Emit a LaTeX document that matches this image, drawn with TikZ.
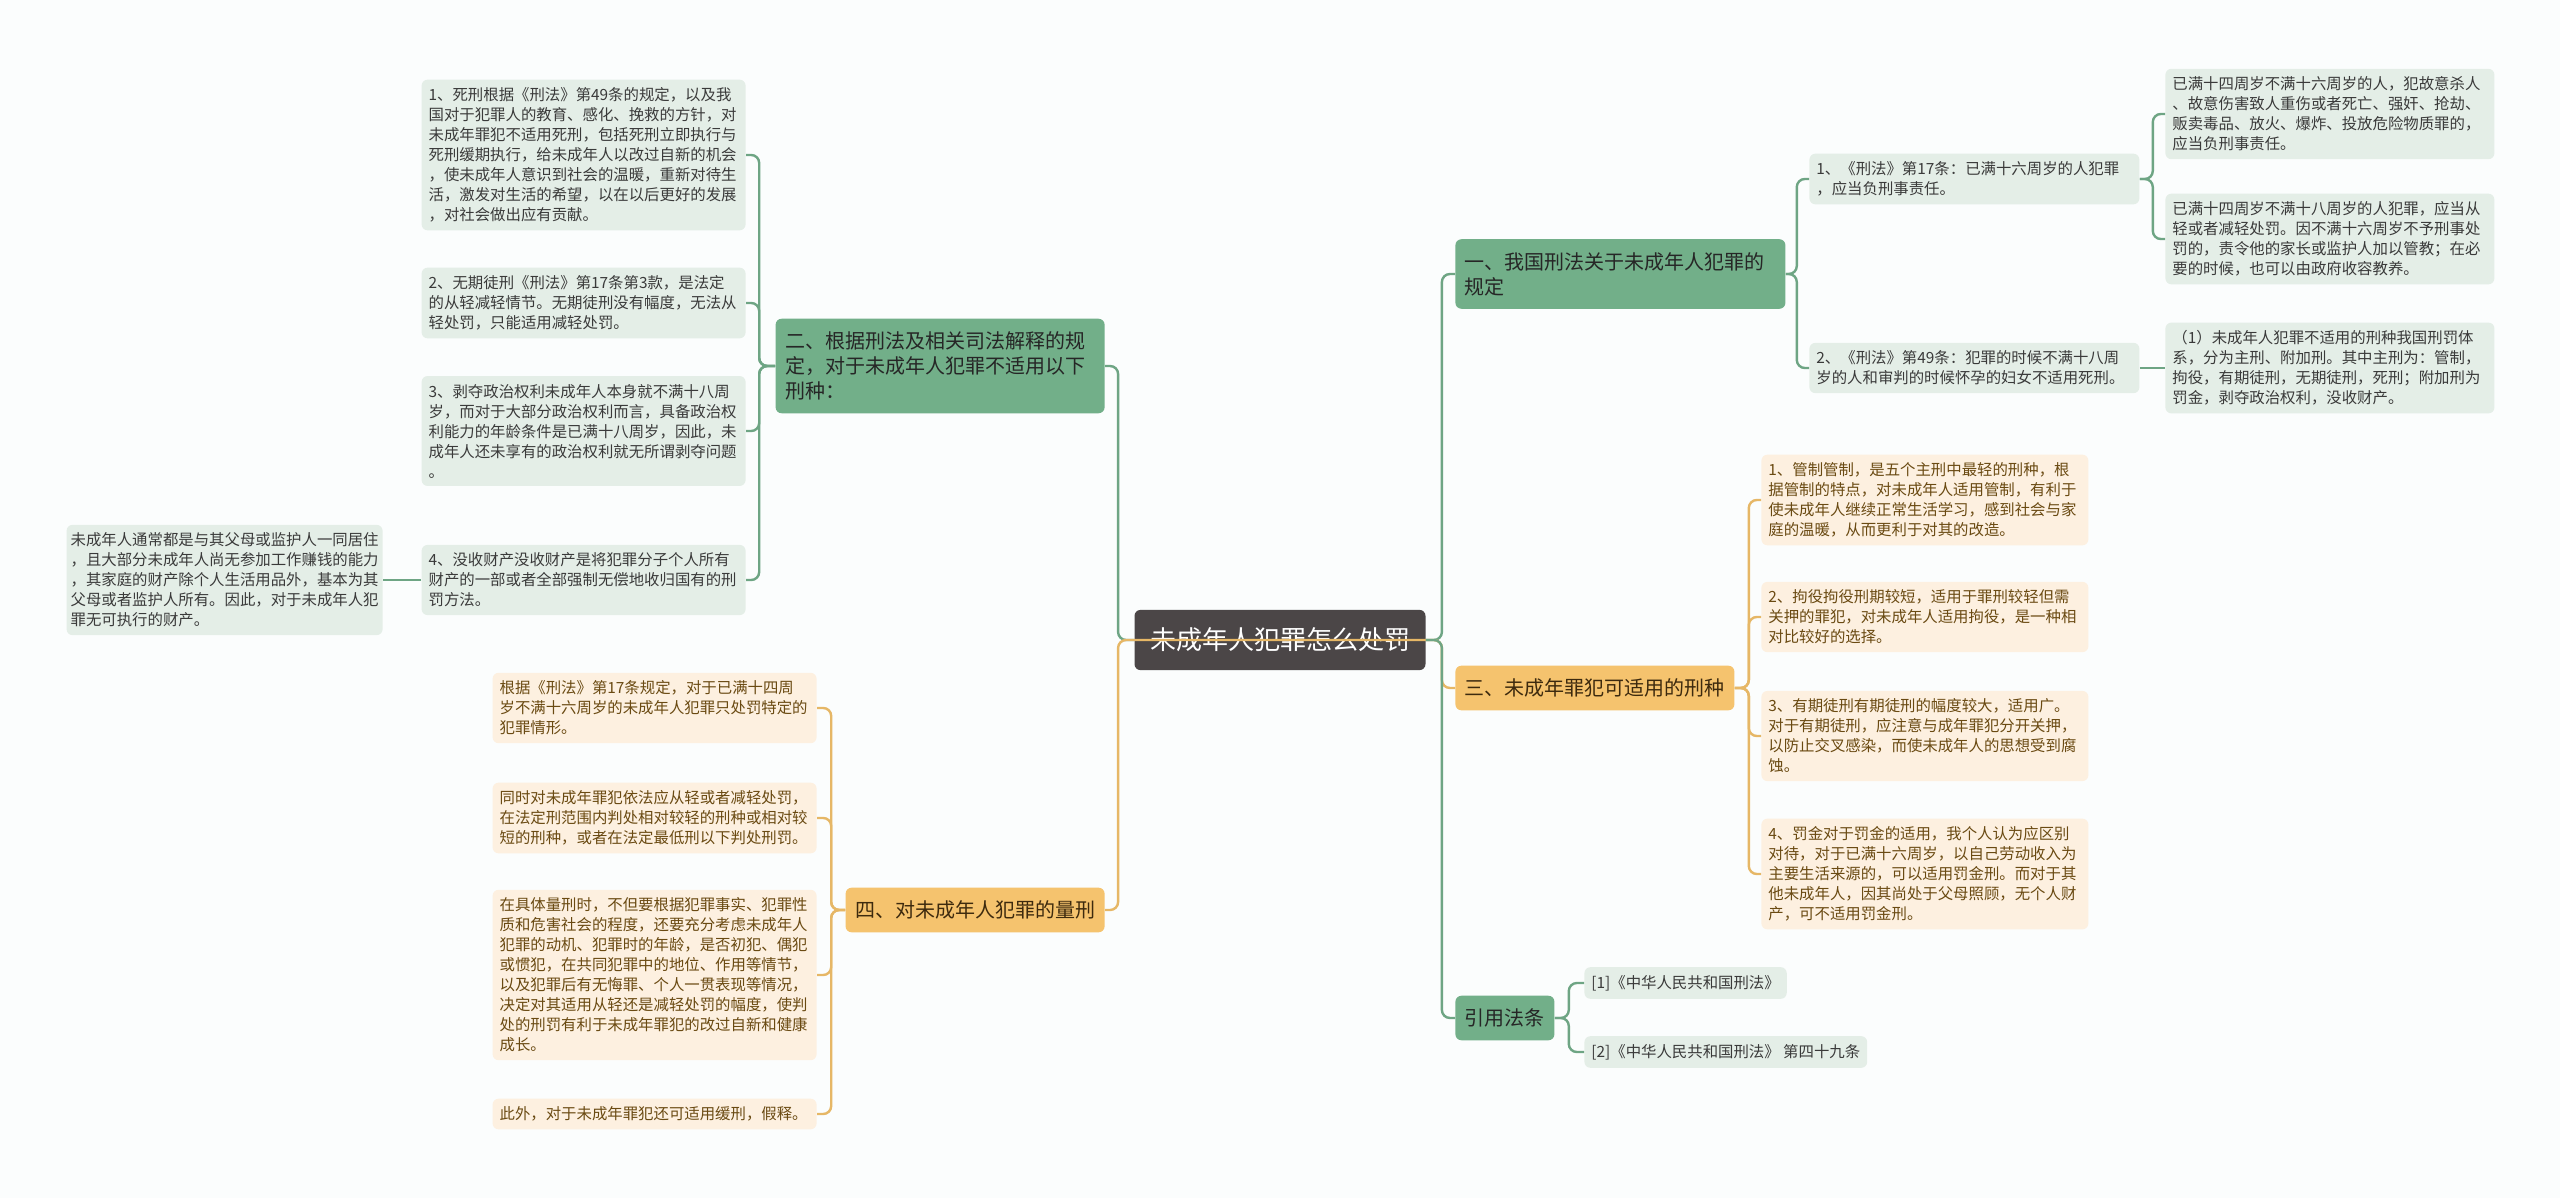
\documentclass[tikz,border=0pt]{standalone}
\usepackage{fontspec}
\setmainfont{Noto Sans CJK SC}
\usepackage{tikz}
\definecolor{bg}{HTML}{FBFDFD}
\definecolor{rootc}{HTML}{4B4647}
\definecolor{g}{HTML}{72AF89}
\definecolor{gl}{HTML}{E4EEE7}
\definecolor{gline}{HTML}{6EA584}
\definecolor{gtext}{HTML}{3A3A3A}
\definecolor{o}{HTML}{F5C36E}
\definecolor{ol}{HTML}{FDF0E0}
\definecolor{oline}{HTML}{E6B766}
\definecolor{otext}{HTML}{6A4A12}
\definecolor{otitle}{HTML}{3D2A0E}

\begin{document}
\begin{tikzpicture}[x=0.5pt,y=-0.5pt,
  rootbox/.style={fill=rootc,text=white,rounded corners=3pt,
    inner xsep=7.75pt,inner ysep=9pt,font=\fontsize{13pt}{16pt}\selectfont},
  gmain/.style={fill=g,text=black!85,rounded corners=3pt,align=left,
    inner xsep=4.75pt,inner ysep=6.5pt,font=\fontsize{10pt}{12.5pt}\selectfont},
  omain/.style={gmain,fill=o,text=otitle},
  gleaf/.style={fill=gl,text=gtext,rounded corners=3pt,align=left,
    inner xsep=3.5pt,inner ysep=4pt,font=\fontsize{7.7pt}{10pt}\selectfont},
  oleaf/.style={gleaf,fill=ol,text=otext},
  glink/.style={draw=gline,line width=1.2pt,rounded corners=4pt},
  olink/.style={draw=oline,line width=1.2pt,rounded corners=4pt}]
  \useasboundingbox (0,0) rectangle (2560,1198);
  \fill[bg] (0,0) rectangle (2560,1198);

  \node[rootbox] (root) at (1280,640) {未成年人犯罪怎么处罚};
  \node[gmain,text width=155.5pt,anchor=west] (law) at (1455,274)
    {一、我国刑法关于未成年人犯罪的\\规定};
  \node[gmain,text width=155pt,anchor=east] (ban) at (1105,366)
    {二、根据刑法及相关司法解释的规\\定，对于未成年人犯罪不适用以下\\刑种：};
  \node[omain,anchor=west] (kind) at (1455,688) {三、未成年罪犯可适用的刑种};
  \node[omain,anchor=east] (meas) at (1105,910) {四、对未成年人犯罪的量刑};
  \node[gmain,anchor=west] (cite) at (1455,1018) {引用法条};

  \node[gleaf,text width=158pt,anchor=west] (law1) at (1809,179)
    {1、《刑法》第17条：已满十六周岁的人犯罪\\，应当负刑事责任。};
  \node[gleaf,text width=158pt,anchor=west] (law2) at (1809,368)
    {2、《刑法》第49条：犯罪的时候不满十八周\\岁的人和审判的时候怀孕的妇女不适用死刑。};
  \node[gleaf,text width=157.5pt,anchor=west] (law1a) at (2165,114)
    {已满十四周岁不满十六周岁的人，犯故意杀人\\、故意伤害致人重伤或者死亡、强奸、抢劫、\\贩卖毒品、放火、爆炸、投放危险物质罪的，\\应当负刑事责任。};
  \node[gleaf,text width=157.5pt,anchor=west] (law1b) at (2165,239)
    {已满十四周岁不满十八周岁的人犯罪，应当从\\轻或者减轻处罚。因不满十六周岁不予刑事处\\罚的，责令他的家长或监护人加以管教；在必\\要的时候，也可以由政府收容教养。};
  \node[gleaf,text width=157.5pt,anchor=west] (law2a) at (2165,368)
    {（1）未成年人犯罪不适用的刑种我国刑罚体\\系，分为主刑、附加刑。其中主刑为：管制，\\拘役，有期徒刑，无期徒刑，死刑；附加刑为\\罚金，剥夺政治权利，没收财产。};

  \node[gleaf,text width=155pt,anchor=east] (ban1) at (746,155)
    {1、死刑根据《刑法》第49条的规定，以及我\\国对于犯罪人的教育、感化、挽救的方针，对\\未成年罪犯不适用死刑，包括死刑立即执行与\\死刑缓期执行，给未成年人以改过自新的机会\\，使未成年人意识到社会的温暖，重新对待生\\活，激发对生活的希望，以在以后更好的发展\\，对社会做出应有贡献。};
  \node[gleaf,text width=155pt,anchor=east] (ban2) at (746,303)
    {2、无期徒刑《刑法》第17条第3款，是法定\\的从轻减轻情节。无期徒刑没有幅度，无法从\\轻处罚，只能适用减轻处罚。};
  \node[gleaf,text width=155pt,anchor=east] (ban3) at (746,431)
    {3、剥夺政治权利未成年人本身就不满十八周\\岁，而对于大部分政治权利而言，具备政治权\\利能力的年龄条件是已满十八周岁，因此，未\\成年人还未享有的政治权利就无所谓剥夺问题\\。};
  \node[gleaf,text width=155pt,anchor=east] (ban4) at (746,580)
    {4、没收财产没收财产是将犯罪分子个人所有\\财产的一部或者全部强制无偿地收归国有的刑\\罚方法。};
  \node[gleaf,text width=154pt,inner xsep=2pt,anchor=east] (ban4a) at (383,580)
    {未成年人通常都是与其父母或监护人一同居住\\，且大部分未成年人尚无参加工作赚钱的能力\\，其家庭的财产除个人生活用品外，基本为其\\父母或者监护人所有。因此，对于未成年人犯\\罪无可执行的财产。};

  \node[oleaf,text width=156.5pt,anchor=west] (kind1) at (1761,500)
    {1、管制管制，是五个主刑中最轻的刑种，根\\据管制的特点，对未成年人适用管制，有利于\\使未成年人继续正常生活学习，感到社会与家\\庭的温暖，从而更利于对其的改造。};
  \node[oleaf,text width=156.5pt,anchor=west] (kind2) at (1761,617)
    {2、拘役拘役刑期较短，适用于罪刑较轻但需\\关押的罪犯，对未成年人适用拘役，是一种相\\对比较好的选择。};
  \node[oleaf,text width=156.5pt,anchor=west] (kind3) at (1761,736)
    {3、有期徒刑有期徒刑的幅度较大，适用广。\\对于有期徒刑，应注意与成年罪犯分开关押，\\以防止交叉感染，而使未成年人的思想受到腐\\蚀。};
  \node[oleaf,text width=156.5pt,anchor=west] (kind4) at (1761,874)
    {4、罚金对于罚金的适用，我个人认为应区别\\对待，对于已满十六周岁，以自己劳动收入为\\主要生活来源的，可以适用罚金刑。而对于其\\他未成年人，因其尚处于父母照顾，无个人财\\产，可不适用罚金刑。};

  \node[oleaf,text width=155pt,anchor=east] (meas1) at (817,708)
    {根据《刑法》第17条规定，对于已满十四周\\岁不满十六周岁的未成年人犯罪只处罚特定的\\犯罪情形。};
  \node[oleaf,text width=155pt,anchor=east] (meas2) at (817,818)
    {同时对未成年罪犯依法应从轻或者减轻处罚，\\在法定刑范围内判处相对较轻的刑种或相对较\\短的刑种，或者在法定最低刑以下判处刑罚。};
  \node[oleaf,text width=155pt,anchor=east] (meas3) at (817,975)
    {在具体量刑时，不但要根据犯罪事实、犯罪性\\质和危害社会的程度，还要充分考虑未成年人\\犯罪的动机、犯罪时的年龄，是否初犯、偶犯\\或惯犯，在共同犯罪中的地位、作用等情节，\\以及犯罪后有无悔罪、个人一贯表现等情况，\\决定对其适用从轻还是减轻处罚的幅度，使判\\处的刑罚有利于未成年罪犯的改过自新和健康\\成长。};
  \node[oleaf,text width=155pt,anchor=east] (meas4) at (817,1114)
    {此外，对于未成年罪犯还可适用缓刑，假释。};

  \node[gleaf,anchor=west] (cite1) at (1584,983) {[1]《中华人民共和国刑法》};
  \node[gleaf,anchor=west] (cite2) at (1584,1052) {[2]《中华人民共和国刑法》 第四十九条};

  \draw[glink] (root.west) -- ++(-16,0) |- (ban.east);
  \draw[olink] (root.east) -- ([xshift=-8pt]root.west) |- (meas.east);
  \draw[glink] (root.east) -- ++(16,0) |- (law.west);
  \draw[olink] (root.east) -- ++(16,0) |- (kind.west);
  \draw[glink] (root.east) -- ++(16,0) |- (cite.west);

  \draw[glink] (law.east) -- ++(11,0) |- (law1.west); \draw[glink] (law.east) -- ++(11,0) |- (law2.west);
  \draw[glink] (law1.east) -- ++(13,0) |- (law1a.west); \draw[glink] (law1.east) -- ++(13,0) |- (law1b.west);
  \draw[glink] (law2.east) -- (law2a.west);

  \draw[glink] (ban.west) -- ++(-16,0) |- (ban1.east); \draw[glink] (ban.west) -- ++(-16,0) |- (ban2.east);
  \draw[glink] (ban.west) -- ++(-16,0) |- (ban3.east); \draw[glink] (ban.west) -- ++(-16,0) |- (ban4.east);
  \draw[glink] (ban4.west) -- (ban4a.east);

  \draw[olink] (kind.east) -- ++(14,0) |- (kind1.west); \draw[olink] (kind.east) -- ++(14,0) |- (kind2.west);
  \draw[olink] (kind.east) -- ++(14,0) |- (kind3.west); \draw[olink] (kind.east) -- ++(14,0) |- (kind4.west);

  \draw[olink] (meas.west) -- ++(-14,0) |- (meas1.east); \draw[olink] (meas.west) -- ++(-14,0) |- (meas2.east);
  \draw[olink] (meas.west) -- ++(-14,0) |- (meas3.east); \draw[olink] (meas.west) -- ++(-14,0) |- (meas4.east);

  \draw[glink] (cite.east) -- ++(14,0) |- (cite1.west); \draw[glink] (cite.east) -- ++(14,0) |- (cite2.west);
\end{tikzpicture}
\end{document}
